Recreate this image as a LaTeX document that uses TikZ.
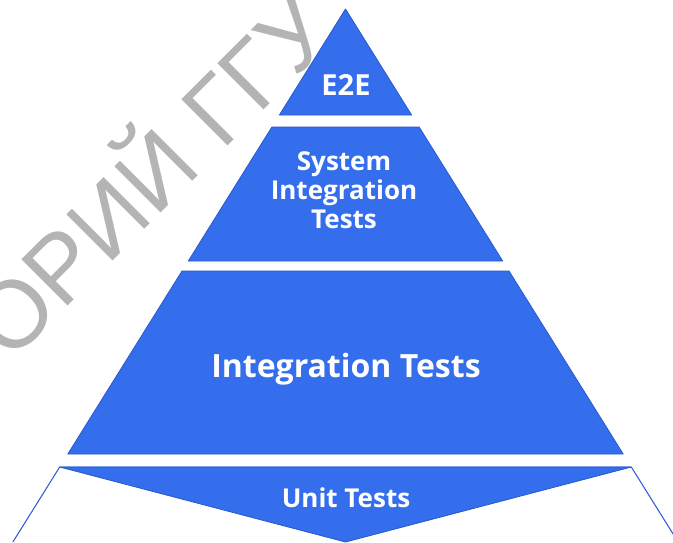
\documentclass[tikz,border=0pt]{standalone}
\usepackage{fontspec}
\setmainfont{Open Sans}
\newfontfamily\wmfont{Liberation Sans}
\definecolor{pyrblue}{RGB}{52,110,236}
\definecolor{pyredge}{RGB}{38,88,206}
\definecolor{wmgray}{RGB}{180,180,180}

\begin{document}
\begin{tikzpicture}[x=1pt,y=-1pt,
		layer/.style={fill=pyrblue,draw=pyredge,line width=0.8pt,line join=round},
		lbl/.style={text=white,font=\bfseries,align=center,inner sep=0pt}]
	\useasboundingbox (0,0) rectangle (673,542);
	\clip (0,0) rectangle (673,542);
	% watermark behind the pyramid
	\node[wmgray,font=\wmfont\fontsize{95}{95}\selectfont,rotate=45,anchor=base west,inner sep=0pt] (wm) at (10,364) {ОРИЙ ГГУ};
	% layers, top to bottom
	\draw[layer] (345.5,9)--(411.6,115)--(279.4,115)--cycle;
	\draw[layer] (271.9,127)--(419.1,127)--(502.7,261)--(188.3,261)--cycle;
	\draw[layer] (182,271)--(509,271)--(623.2,454)--(67.8,454)--cycle;
	\draw[pyredge,line width=1pt,fill=white] (12.9,542)--(59.7,467)--(631.3,467)--(678.1,542);
	\draw[layer] (59.7,467)--(631.3,467)--(345.5,542)--cycle;
	% labels
	\node[lbl,anchor=base,font=\bfseries\fontsize{29}{29}\selectfont] (e2e) at (346,95) {E2E};
	\node[lbl,font=\bfseries\fontsize{26}{29}\selectfont] (sit) at (344,190) {System\\Integration\\Tests};
	\node[lbl,anchor=base,font=\bfseries\fontsize{32}{32}\selectfont] (it) at (346,377) {Integration Tests};
	\node[lbl,anchor=base,font=\bfseries\fontsize{26}{26}\selectfont] (ut) at (346,507) {Unit Tests};
\end{tikzpicture}
\end{document}
